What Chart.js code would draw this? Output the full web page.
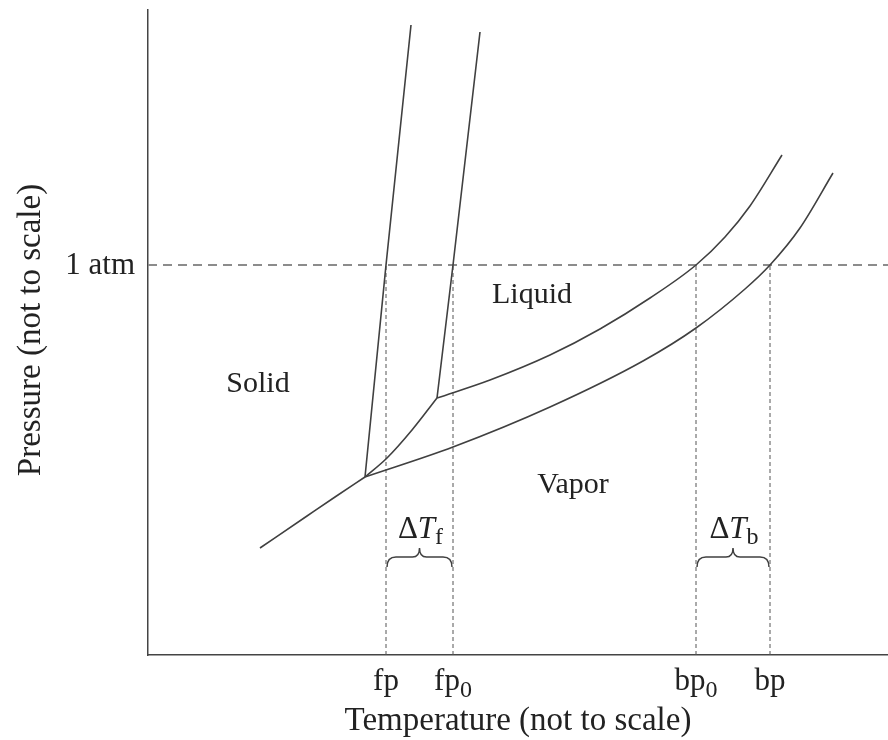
<!DOCTYPE html>
<html>
<head>
<meta charset="utf-8">
<script src="https://cdn.jsdelivr.net/npm/chart.js@4.4.0/dist/chart.umd.min.js"></script>
<style>
  html, body { margin: 0; padding: 0; background: #fff; }
  #wrap { width: 888px; height: 740px; }
</style>
</head>
<body>
<div id="wrap"><canvas id="phase"></canvas></div>
<script>
// arbitrary units - the diagram is "not to scale"
const sublimation = [[112, 107], [159, 139], [187, 158], [217, 178]];
const solventSublimation = [[217, 178], [239, 197], [264, 225], [289, 257]];
const solutionMelting = [[217, 178], [238, 390], [263, 630]];
const solventMelting = [[289, 257], [305, 390], [332, 623]];
const solutionVapor = [[217, 178], [305, 208], [402, 248], [495, 294], [548, 327], [597, 366], [622, 390], [652, 427], [685, 482]];
const solventVapor = [[289, 257], [342, 275], [402, 300], [452, 326], [502, 357], [548, 390], [577, 418], [602, 449], [634, 500]];

const oneAtm = 390;
const tickTemps = [238, 305, 548, 622];
const tickNames = ['fp', 'fp', 'bp', 'bp'];
const tickSubs = ['', '0', '0', ''];

const regionLabels = ['Solid', 'Liquid', 'Vapor'];
const regionSpots = [[110, 263], [384, 352], [425, 162]];

const SERIF = '"Liberation Serif", "Times New Roman", serif';
const INK = '#404040';

function pts(arr) {
  return arr.map(p => ({ x: p[0], y: p[1] }));
}

function curve(arr, smooth) {
  return {
    data: pts(arr),
    showLine: true,
    borderColor: INK,
    borderWidth: 1.6,
    pointRadius: 0,
    cubicInterpolationMode: smooth ? 'monotone' : 'default',
    tension: 0,
    fill: false
  };
}

let datasets = [
  curve(sublimation, true),
  curve(solventSublimation, true),
  curve(solutionMelting, false),
  curve(solventMelting, false),
  curve(solutionVapor, true),
  curve(solventVapor, true),
  {
    data: [{ x: 0, y: oneAtm }, { x: 740, y: oneAtm }],
    showLine: true, borderColor: '#8c8c8c', borderWidth: 2,
    borderDash: [9, 6], pointRadius: 0
  }
];
tickTemps.forEach(t => {
  datasets.push({
    data: [{ x: t, y: 0 }, { x: t, y: oneAtm }],
    showLine: true, borderColor: '#555', borderWidth: 1,
    borderDash: [4, 3], pointRadius: 0
  });
});

// text with an optional subscript, centred on cx
function subText(ctx, parts, cx, baseline) {
  let total = 0;
  parts.forEach(p => { ctx.font = p.font; total += ctx.measureText(p.text).width; });
  let x = cx - total / 2;
  parts.forEach(p => {
    ctx.font = p.font;
    ctx.fillText(p.text, x, baseline + (p.drop || 0));
    x += ctx.measureText(p.text).width;
  });
}

function brace(ctx, x1, x2, y) {
  let m = (x1 + x2) / 2;
  ctx.beginPath();
  ctx.moveTo(x1, y + 10);
  ctx.quadraticCurveTo(x1, y, x1 + 9, y);
  ctx.lineTo(m - 7, y);
  ctx.quadraticCurveTo(m, y, m, y - 9);
  ctx.quadraticCurveTo(m, y, m + 7, y);
  ctx.lineTo(x2 - 9, y);
  ctx.quadraticCurveTo(x2, y, x2, y + 10);
  ctx.stroke();
}

const annotations = {
  id: 'annotations',
  afterDraw(chart) {
    const ctx = chart.ctx;
    const xs = chart.scales.x, ys = chart.scales.y;
    const area = chart.chartArea;
    ctx.save();
    ctx.fillStyle = '#222';
    ctx.textBaseline = 'alphabetic';

    // tick labels
    const big = '31px ' + SERIF, small = '24px ' + SERIF;
    tickTemps.forEach((t, i) => {
      let parts = [{ text: tickNames[i], font: big }];
      if (tickSubs[i]) parts.push({ text: tickSubs[i], font: small, drop: 7 });
      subText(ctx, parts, xs.getPixelForValue(t), area.bottom + 35);
    });
    ctx.font = big;
    ctx.textAlign = 'right';
    ctx.fillText('1 atm', area.left - 13, ys.getPixelForValue(oneAtm) + 9);
    ctx.textAlign = 'left';

    // region names
    ctx.font = '30px ' + SERIF;
    ctx.textAlign = 'center';
    regionLabels.forEach((lab, i) => {
      ctx.fillText(lab, xs.getPixelForValue(regionSpots[i][0]), ys.getPixelForValue(regionSpots[i][1]));
    });
    ctx.textAlign = 'left';

    // delta T braces
    ctx.strokeStyle = INK;
    ctx.lineWidth = 1.5;
    const braceY = ys.getPixelForValue(98);
    [[0, 1, 'f'], [2, 3, 'b']].forEach(d => {
      let a = xs.getPixelForValue(tickTemps[d[0]]), b = xs.getPixelForValue(tickTemps[d[1]]);
      brace(ctx, a + 1, b - 1, braceY);
      subText(ctx, [
        { text: '\u0394', font: big },
        { text: 'T', font: 'italic ' + big },
        { text: d[2], font: small, drop: 6 }
      ], (a + b) / 2 + 1, braceY - 19);
    });

    // axis titles
    ctx.font = '33px ' + SERIF;
    ctx.textAlign = 'center';
    ctx.fillText('Temperature (not to scale)', (area.left + area.right) / 2, area.bottom + 75);
    ctx.translate(40, 330);
    ctx.rotate(-Math.PI / 2);
    ctx.fillText('Pressure (not to scale)', 0, 0);
    ctx.restore();
  }
};

new Chart(document.getElementById('phase'), {
  type: 'scatter',
  data: { datasets: datasets },
  options: {
    responsive: true,
    maintainAspectRatio: false,
    animation: false,
    layout: { padding: { left: 140, right: 0, top: 10, bottom: 77 } },
    plugins: { legend: { display: false }, tooltip: { enabled: false } },
    scales: {
      x: {
        type: 'linear', min: 0, max: 740,
        grid: { display: false }, ticks: { display: false },
        border: { color: '#444', width: 1.5 }
      },
      y: {
        type: 'linear', min: 0, max: 645,
        grid: { display: false }, ticks: { display: false },
        border: { color: '#444', width: 1.5 }
      }
    }
  },
  plugins: [annotations]
});
</script>
</body>
</html>
